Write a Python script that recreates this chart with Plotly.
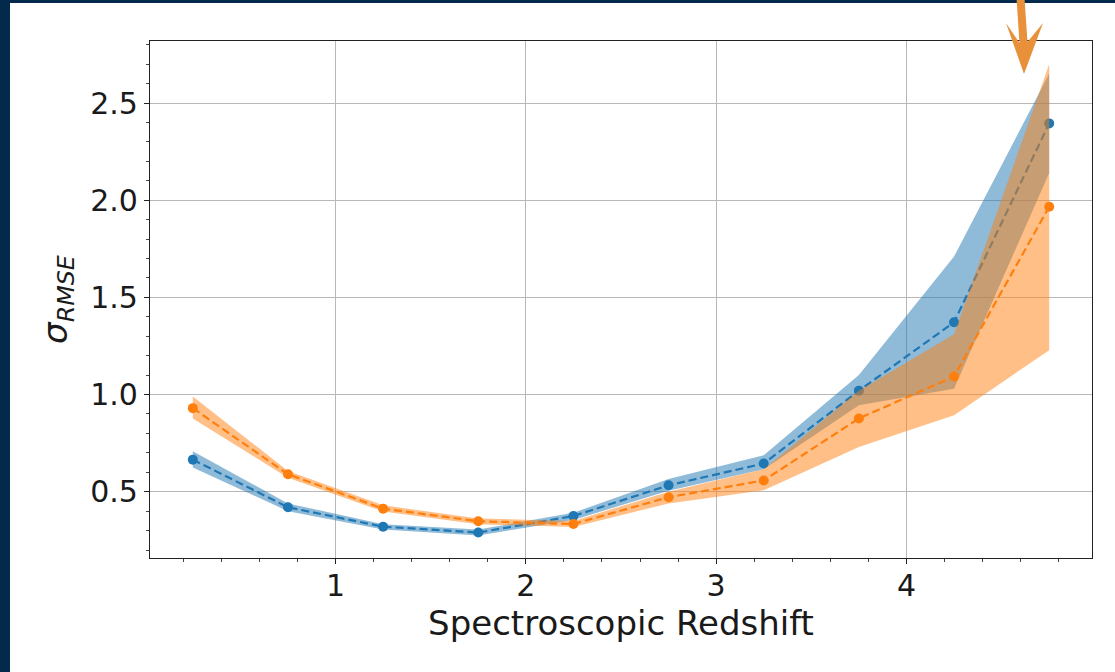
import plotly.graph_objects as go

# ---- data ----
z_bins = [0.25, 0.75, 1.25, 1.75, 2.25, 2.75, 3.25, 3.75, 4.25, 4.75]

blue_mid = [0.665, 0.42, 0.32, 0.29, 0.375, 0.533, 0.645, 1.02, 1.372, 2.395]
blue_lo = [0.625, 0.40, 0.305, 0.275, 0.355, 0.505, 0.615, 0.945, 1.03, 2.14]
blue_hi = [0.708, 0.44, 0.333, 0.305, 0.392, 0.565, 0.688, 1.10, 1.71, 2.65]

orange_mid = [0.93, 0.59, 0.413, 0.348, 0.334, 0.472, 0.558, 0.877, 1.093, 1.966]
orange_lo = [0.877, 0.572, 0.398, 0.333, 0.318, 0.44, 0.508, 0.73, 0.894, 1.228]
orange_hi = [0.99, 0.607, 0.43, 0.362, 0.35, 0.50, 0.615, 1.02, 1.31, 2.70]

x_ticks = [1, 2, 3, 4]
y_ticks = [0.5, 1.0, 1.5, 2.0, 2.5]

BLUE = "#1f77b4"
ORANGE = "#ff7f0e"
W, H = 1115, 672
L, R, T, B = 150, 23, 41, 114

fig = go.Figure()


def band(lo, hi, color):
    return go.Scatter(
        x=z_bins + z_bins[::-1],
        y=hi + lo[::-1],
        fill="toself",
        fillcolor=color,
        line=dict(width=0),
        mode="lines",
        hoverinfo="skip",
        showlegend=False,
    )


def curve(y, color):
    return go.Scatter(
        x=z_bins,
        y=y,
        mode="lines+markers",
        line=dict(color=color, width=2.2, dash="8px,4px"),
        marker=dict(color=color, size=10),
        showlegend=False,
    )


fig.add_trace(band(blue_lo, blue_hi, "rgba(31,119,180,0.5)"))
fig.add_trace(curve(blue_mid, BLUE))
fig.add_trace(band(orange_lo, orange_hi, "rgba(255,127,14,0.5)"))
fig.add_trace(curve(orange_mid, ORANGE))

pw, ph = W - L - R, H - T - B


def px(xp):
    return (xp - L) / pw


def py(yp):
    return (H - B - yp) / ph


# navy frame of the slide
NAVY = "#03294b"
shapes = [
    dict(type="rect", xref="paper", yref="paper", x0=px(0), x1=px(10), y0=py(H), y1=py(0),
         fillcolor=NAVY, line=dict(width=0), layer="above"),
    dict(type="rect", xref="paper", yref="paper", x0=px(0), x1=px(W), y0=py(3), y1=py(0),
         fillcolor=NAVY, line=dict(width=0), layer="above"),
]
# orange arrow pointing to the last bin
arrow_pts = [(1016.5, -2), (1024.5, -2), (1027.5, 42), (1043, 23), (1024, 74),
             (1006, 23), (1019.5, 43)]
path = "M " + " L ".join(f"{px(a):.5f},{py(b):.5f}" for a, b in arrow_pts) + " Z"
shapes.append(dict(type="path", xref="paper", yref="paper", path=path,
                   fillcolor="#e8913a", line=dict(width=0), layer="above"))

axis_common = dict(
    showline=True, linecolor="#222222", linewidth=1.2, mirror=True,
    ticks="outside", ticklen=5, tickwidth=1.2, tickcolor="#222222",
    showgrid=True, gridcolor="#b8b8b8", gridwidth=1, zeroline=False,
    tickfont=dict(family="DejaVu Sans", size=30, color="#1a1a1a"),
)

fig.update_layout(
    width=W, height=H,
    margin=dict(l=L, r=R, t=T, b=B, autoexpand=False),
    paper_bgcolor="white", plot_bgcolor="white",
    shapes=shapes,
    xaxis=dict(
        **axis_common,
        range=[0.025, 4.975],
        tickvals=x_ticks,
        ticktext=[str(v) for v in x_ticks],
        ticklabelstandoff=-4,
        minor=dict(dtick=0.2, tick0=0, ticks="outside", ticklen=3, tickcolor="#444444", showgrid=False),
        title=dict(text="Spectroscopic Redshift", standoff=2,
                   font=dict(family="DejaVu Sans", size=34, color="#1a1a1a")),
    ),
    yaxis=dict(
        **axis_common,
        range=[0.159, 2.819],
        tickvals=y_ticks,
        ticktext=[f"{v:.1f}" for v in y_ticks],
        minor=dict(dtick=0.1, tick0=0, ticks="outside", ticklen=3, tickcolor="#444444", showgrid=False),
        title=dict(text="<i>σ</i><sub><i>RMSE</i></sub>", standoff=12,
                   font=dict(family="DejaVu Sans", size=34, color="#1a1a1a")),
    ),
)

fig.write_html("out.html")
